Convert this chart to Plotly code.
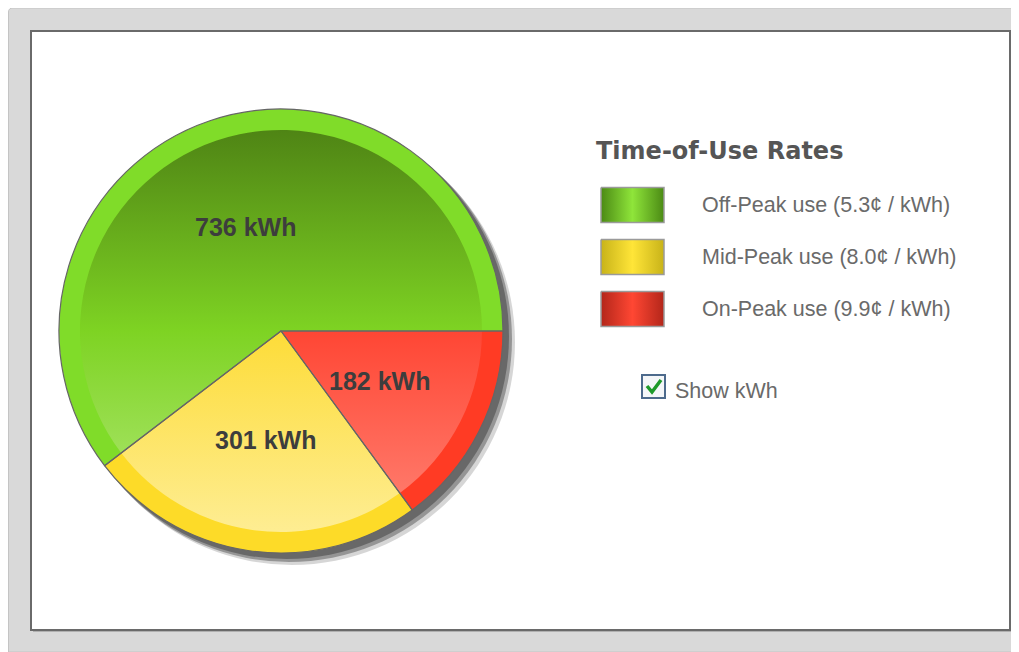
import numpy as np
import plotly.graph_objects as go

# ---------------- data ----------------
periods = ["Off-Peak use", "Mid-Peak use", "On-Peak use"]
usage_kwh = [736, 301, 182]
rates_cents = ["5.3", "8.0", "9.9"]
legend_title = "Time-of-Use Rates"
checkbox_label = "Show kWh"

# ---------------- styles ----------------
rim_colors = ["#80dc29", "#fddb28", "#ff3b24"]
inner_scales = [
    [[0.0, "#4a7c13"], [0.5, "#7ed323"], [1.0, "#b8eb82"]],
    [[0.0, "#fdd72a"], [0.5, "#fddc38"], [1.0, "#feef9c"]],
    [[0.0, "#ff3b26"], [0.5, "#ff4634"], [1.0, "#ff8a7c"]],
]
swatch_dark = ["#4b8a14", "#c8b319", "#b3261a"]
swatch_bright = ["#8fe53a", "#ffe538", "#ff4733"]

# page has an 8px body margin: work in page pixel coordinates
OFF = 8
PW, PH = 1019, 652
W, H = PW - OFF, PH - OFF
CX, CY, R = 281, 331, 222
R_IN = 201
LABEL_R = 0.495 * R

fig = go.Figure()

# ---------------- background panels ----------------
shapes = [
    dict(type="path", path=f"M 8.5,{PH} L 8.5,12 Q 8.5,8 13,8 L {PW},8 L {PW},{PH} Z",
         fillcolor="#d9d9d9", line=dict(color="#c4c4c4", width=1), layer="below"),
    dict(type="rect", x0=31, y0=31, x1=1010, y1=630, fillcolor="white",
         line=dict(color="#6a6a6a", width=2), layer="below"),
    dict(type="rect", x0=33, y0=631, x1=1011, y1=632, fillcolor="#b0b0b0",
         line=dict(width=0), layer="below"),
    # soft drop shadow of the pie
    dict(type="circle", x0=CX - R + 10, y0=CY - R + 10, x1=CX + R + 12, y1=CY + R + 12,
         fillcolor="rgba(0,0,0,0.16)", line=dict(width=0), layer="below"),
    dict(type="circle", x0=CX - R + 7, y0=CY - R + 7, x1=CX + R + 9, y1=CY + R + 9,
         fillcolor="rgba(0,0,0,0.30)", line=dict(width=0), layer="below"),
    dict(type="circle", x0=CX - R + 5, y0=CY - R + 5, x1=CX + R + 6, y1=CY + R + 6,
         fillcolor="rgba(0,0,0,0.30)", line=dict(width=0), layer="below"),
]

# ---------------- inner gradient wedges (computed from the values) ----------------
vals = np.array(usage_kwh, dtype=float)
cum = np.concatenate([[0], np.cumsum(vals)]) / vals.sum() * 2 * np.pi
annotations = []
for i in range(len(vals)):
    th = np.linspace(cum[i], cum[i + 1], 120)
    xs = np.concatenate([[CX], CX + (R - 1) * np.cos(th), [CX]])
    ys = np.concatenate([[CY], CY - (R - 1) * np.sin(th), [CY]])
    fig.add_trace(go.Scatter(
        x=xs, y=ys, mode="lines", fill="toself",
        line=dict(width=0, color="rgba(0,0,0,0)"),
        fillgradient=dict(type="vertical", colorscale=inner_scales[i],
                          start=CY - R, stop=CY + R),
        hoverinfo="skip", showlegend=False))
    mid = 0.5 * (cum[i] + cum[i + 1])
    annotations.append(dict(
        x=CX + LABEL_R * np.cos(mid), y=CY - LABEL_R * np.sin(mid),
        text=f"{usage_kwh[i]} kWh", showarrow=False, xanchor="center", yanchor="middle",
        font=dict(family="Liberation Sans", size=25, color="#3d3d3d", weight="bold")))

# ---------------- pie traces ----------------
dom_x = [(CX - R - OFF) / W, (CX + R - OFF) / W]
dom_y = [(PH - CY - R) / H, (PH - CY + R) / H]
# first slice starts at 3 o'clock and runs counter-clockwise
rot = 90 - 360 * usage_kwh[0] / sum(usage_kwh)

# outer coloured rim
fig.add_trace(go.Pie(
    labels=periods, values=usage_kwh, sort=False, direction="counterclockwise",
    rotation=rot, hole=R_IN / R, domain=dict(x=dom_x, y=dom_y),
    marker=dict(colors=rim_colors, line=dict(width=0)),
    textinfo="none", hoverinfo="skip", showlegend=False))

# slice outlines
fig.add_trace(go.Pie(
    labels=periods, values=usage_kwh, sort=False, direction="counterclockwise",
    rotation=rot, domain=dict(x=dom_x, y=dom_y),
    marker=dict(colors=["rgba(0,0,0,0)"] * 3, line=dict(color="#666666", width=1.2)),
    textinfo="none", hoverinfo="label+value", showlegend=False))

# ---------------- custom legend ----------------
annotations.append(dict(
    x=594, y=151, text="<b>" + legend_title + "</b>", showarrow=False,
    xanchor="left", yanchor="middle",
    font=dict(family="DejaVu Sans", size=24, color="#555555")))
row_y = [205, 257, 309]
for i, name in enumerate(periods):
    y0, y1 = row_y[i] - 17.5, row_y[i] + 17.5
    fig.add_trace(go.Scatter(
        x=[601, 664, 664, 601, 601], y=[y0, y0, y1, y1, y0],
        mode="lines", fill="toself",
        line=dict(color="#9a9a9a", width=1.5),
        fillgradient=dict(type="horizontal",
                          colorscale=[[0, swatch_dark[i]], [0.5, swatch_bright[i]],
                                      [1, swatch_dark[i]]]),
        hoverinfo="skip", showlegend=False))
    annotations.append(dict(
        x=700, y=row_y[i], text=f"{name} ({rates_cents[i]}¢ / kWh)", showarrow=False,
        xanchor="left", yanchor="middle",
        font=dict(family="Liberation Sans", size=21.5, color="#6a6a6a")))

# checkbox
shapes.append(dict(type="rect", x0=642, y0=375, x1=665, y1=398, layer="below",
                   fillcolor="#f4f6f8", line=dict(color="#4d6a8c", width=2)))
fig.add_trace(go.Scatter(
    x=[647, 652, 661], y=[386, 392, 380], mode="lines",
    line=dict(color="#1e9a2a", width=3.5), hoverinfo="skip", showlegend=False))
annotations.append(dict(
    x=673, y=391, text=checkbox_label, showarrow=False, xanchor="left", yanchor="middle",
    font=dict(family="Liberation Sans", size=21.5, color="#6a6a6a")))

fig.update_layout(
    width=W, height=H, margin=dict(l=0, r=0, t=0, b=0),
    paper_bgcolor="white", plot_bgcolor="rgba(0,0,0,0)",
    xaxis=dict(range=[OFF, PW], visible=False, fixedrange=True, domain=[0, 1]),
    yaxis=dict(range=[PH, OFF], visible=False, fixedrange=True, domain=[0, 1]),
    shapes=shapes, annotations=annotations, showlegend=False,
)

fig.write_html("out.html")
